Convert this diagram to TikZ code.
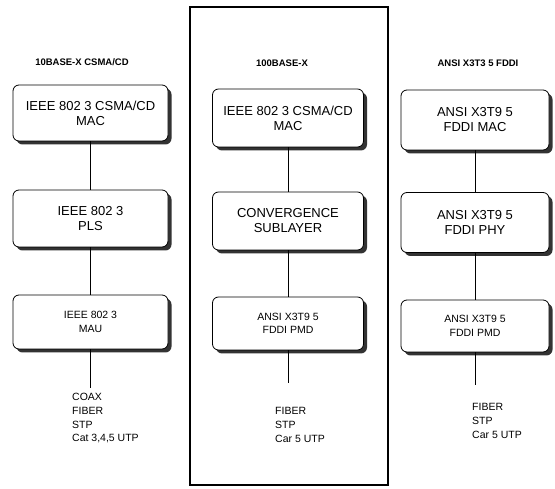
\documentclass[tikz,border=0pt]{standalone}
\usepackage{fontspec}
\setmainfont{Liberation Sans}
\usetikzlibrary{shadows}
\begin{document}
\begin{tikzpicture}[x=1pt,y=-1pt,
  layerbox/.style={draw=black, line width=0.8pt, fill=white, rounded corners=6pt,
    align=center, inner sep=2pt,
    drop shadow={shadow xshift=3.5pt, shadow yshift=-3.5pt, fill=black!80, opacity=1}},
  bigtext/.style={font=\fontsize{13}{15}\selectfont},
  smalltext/.style={font=\fontsize{10.5}{13.5}\selectfont},
  title/.style={font=\bfseries\fontsize{9.5}{11}\selectfont},
  media/.style={font=\fontsize{10.5}{13.8}\selectfont, align=left, anchor=north west, inner sep=0pt},
  link/.style={line width=0.8pt}]
\useasboundingbox (0,0) rectangle (555,489);
% frame around middle column
\draw[line width=1.6pt] (190,7) rectangle (388,485);

% titles
\node[title] (t1) at (82,62) {10BASE-X CSMA/CD};
\node[title] (t2) at (282,63) {100BASE-X};
\node[title] (t3) at (478,63) {ANSI X3T3 5 FDDI};

% left column
\node[layerbox, bigtext, minimum width=155pt, minimum height=56pt] (l1) at (90.5,113) {IEEE 802 3 CSMA/CD\\MAC};
\node[layerbox, bigtext, minimum width=155pt, minimum height=57pt] (l2) at (90.5,218.5) {IEEE 802 3\\PLS};
\node[layerbox, smalltext, minimum width=155pt, minimum height=54pt] (l3) at (90.5,322) {IEEE 802 3\\MAU};
\coordinate (l4) at (90.5,388);
\node[media] (m1) at (72,393) {COAX\\FIBER\\STP\\Cat 3,4,5 UTP};

% middle column
\node[layerbox, bigtext, minimum width=151pt, minimum height=58pt] (c1) at (288,118) {IEEE 802 3 CSMA/CD\\MAC};
\node[layerbox, bigtext, minimum width=151pt, minimum height=58pt] (c2) at (288,221) {CONVERGENCE\\SUBLAYER};
\node[layerbox, smalltext, minimum width=151pt, minimum height=53pt] (c3) at (288,323.5) {ANSI X3T9 5\\FDDI PMD};
\coordinate (c4) at (288,383);
\node[media] (m2) at (275,407) {FIBER\\STP\\Car 5 UTP};

% right column
\node[layerbox, bigtext, minimum width=148pt, minimum height=60pt] (r1) at (475,120) {ANSI X3T9 5\\FDDI MAC};
\node[layerbox, bigtext, minimum width=148pt, minimum height=60pt] (r2) at (475,222.5) {ANSI X3T9 5\\FDDI PHY};
\node[layerbox, smalltext, minimum width=148pt, minimum height=52pt] (r3) at (475,326) {ANSI X3T9 5\\FDDI PMD};
\coordinate (r4) at (475,385);
\node[media] (m3) at (472,403) {FIBER\\STP\\Car 5 UTP};

% connectors
\draw[link] (l1.south) -- (l2.north);
\draw[link] (l2.south) -- (l3.north);
\draw[link] (l3.south) -- (l4);
\draw[link] (c1.south) -- (c2.north);
\draw[link] (c2.south) -- (c3.north);
\draw[link] (c3.south) -- (c4);
\draw[link] (r1.south) -- (r2.north);
\draw[link] (r2.south) -- (r3.north);
\draw[link] (r3.south) -- (r4);
\end{tikzpicture}
\end{document}
